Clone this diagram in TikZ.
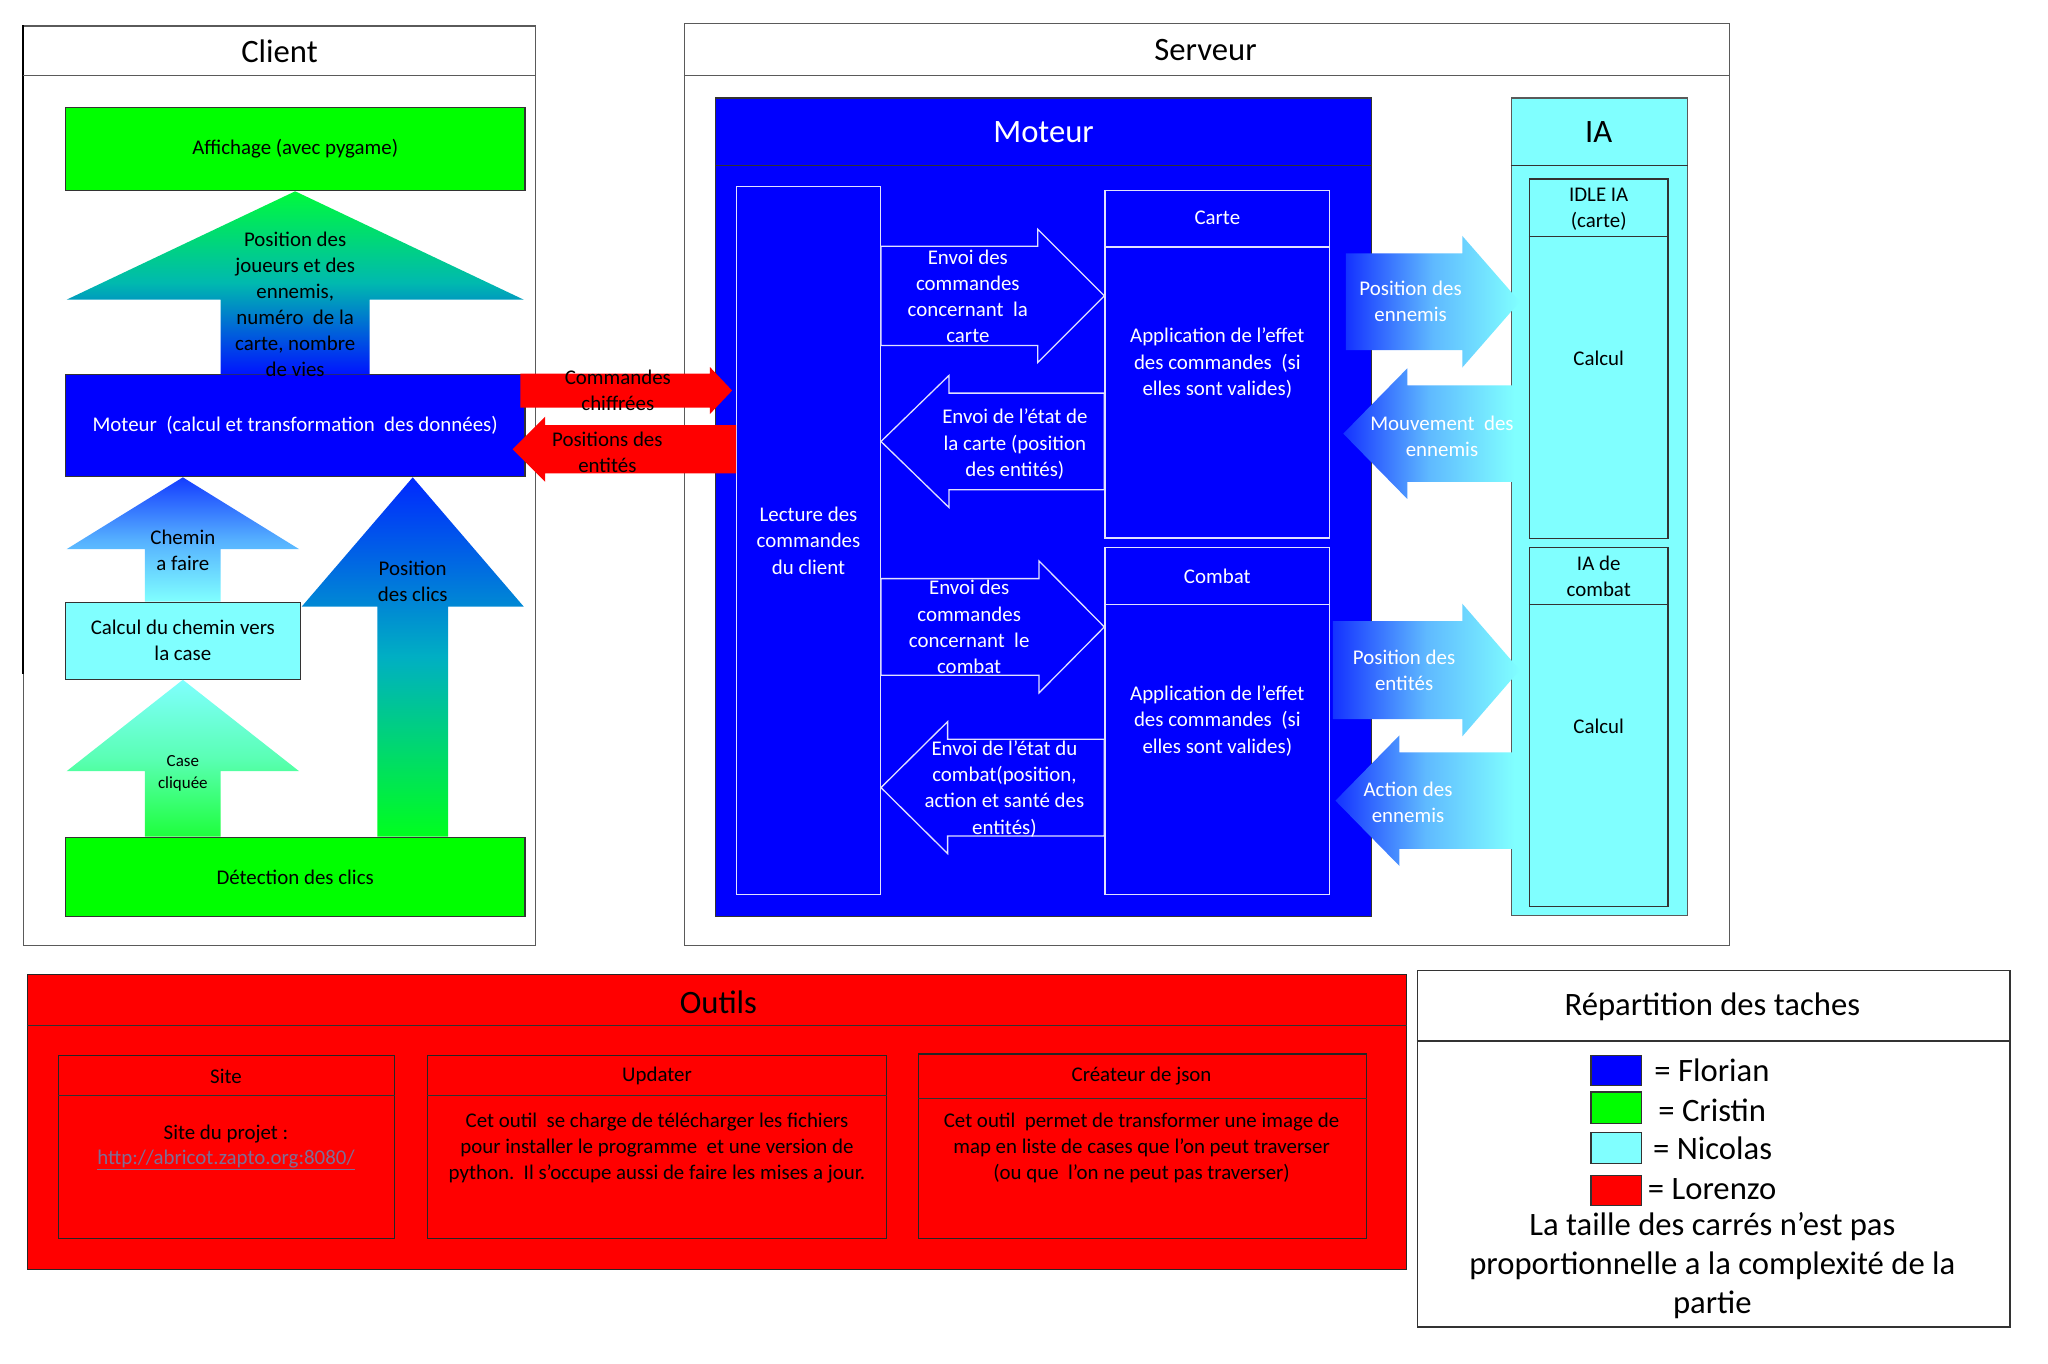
\documentclass[tikz,border=0pt]{standalone}
\usepackage{fontspec}
\setmainfont{Carlito}
\usetikzlibrary{fit,calc}
\definecolor{cblue}{RGB}{0,0,255}
\definecolor{cgreen}{RGB}{0,255,0}
\definecolor{ccyan}{RGB}{128,255,255}
\definecolor{cred}{RGB}{255,0,0}
\definecolor{wcol}{RGB}{225,225,255}
\definecolor{urlcol}{RGB}{125,110,150}
\definecolor{frcol}{RGB}{90,90,90}
% block arrows: style, tip, base, shaft half width, head half width, head length
\newcommand\BlkUp[6]{\path[#1] let \p1=#2, \p2=#3 in
  (\x2-#4,\y2) -- (\x2-#4,\y1-#6) -- (\x2-#5,\y1-#6) -- (\x2,\y1) -- (\x2+#5,\y1-#6) -- (\x2+#4,\y1-#6) -- (\x2+#4,\y2) -- cycle;}
\newcommand\BlkRight[6]{\path[#1] let \p1=#2, \p2=#3 in
  (\x2,\y1+#4) -- (\x1-#6,\y1+#4) -- (\x1-#6,\y1+#5) -- (\x1,\y1) -- (\x1-#6,\y1-#5) -- (\x1-#6,\y1-#4) -- (\x2,\y1-#4) -- cycle;}
\newcommand\BlkLeft[6]{\path[#1] let \p1=#2, \p2=#3 in
  (\x2,\y1+#4) -- (\x1+#6,\y1+#4) -- (\x1+#6,\y1+#5) -- (\x1,\y1) -- (\x1+#6,\y1-#5) -- (\x1+#6,\y1-#4) -- (\x2,\y1-#4) -- cycle;}
\begin{document}
\begin{tikzpicture}[x=1pt,y=-1pt,
  framebox/.style={draw=frcol, fill=white, line width=1pt, inner sep=0pt},
  greenbox/.style={draw=black!80, fill=cgreen, line width=0.9pt, inner sep=0pt},
  bluebox/.style={draw=black!80, fill=cblue, line width=0.9pt, inner sep=0pt},
  cyanbox/.style={draw=black!80, fill=ccyan, line width=0.9pt, inner sep=0pt},
  redbox/.style={draw=black!85, fill=cred, line width=0.9pt, inner sep=0pt},
  whitebox/.style={draw=wcol, fill=cblue, line width=1pt, inner sep=0pt},
  swatch/.style={draw=black!80, line width=1pt, inner sep=0pt},
  sepline/.style={draw=black!80, line width=0.9pt},
  wsep/.style={draw=wcol, line width=1pt},
  warrow/.style={fill=cblue, draw=wcol, line width=1pt},
  redarrow/.style={fill=cred},
  garrow/.style={left color={rgb,255:red,20;green,50;blue,255}, right color=ccyan, middle color={rgb,255:red,95;green,185;blue,255}},
  txs/.style={font=\fontsize{16}{20}\selectfont, align=center, inner sep=0pt},
  txl/.style={font=\fontsize{25}{30}\selectfont, align=center, inner sep=0pt},
  txc/.style={font=\fontsize{13}{17}\selectfont, align=center, inner sep=0pt},
  wt/.style={text=white}]
\fill[white] (0,0) rectangle (1568,1044);
\useasboundingbox (0,0) rectangle (1568,1044);

% ================= CLIENT =================
\node[framebox, fit={(18,20) (410,724)}] (client) {};
\draw[black, line width=1.6pt] (client.north west) -- (client.west |- 0,516);
\draw[sepline,draw=frcol] (client.west |- 0,58) -- (client.east |- 0,58);
\node[txl] (clientT) at (214,39) {Client};
\node[greenbox, fit={(50,82) (402,146)}] (affichage) {};
\node[txs] (affT) at (affichage.center) {Affichage (avec pygame)};
\node[bluebox, fit={(50,287) (402,365)}] (moteurC) {};
\node[txs, wt] (moteurCT) at (moteurC.center) {Moteur\ \ (calcul et transformation\ \ des données)};
\node[cyanbox, fit={(50,461) (230,520)}] (calculC) {};
\node[txs] (calculCT) at (calculC.center) {Calcul du chemin vers\\la case};
\node[greenbox, fit={(50,641) (402,702)}] (detection) {};
\node[txs] (detectionT) at (detection.center) {Détection des clics};
\coordinate (clicsx) at (316,0);

\BlkUp{top color={rgb,255:red,0;green,250;blue,60}, bottom color={rgb,255:red,0;green,20;blue,255}, middle color={rgb,255:red,0;green,185;blue,175}}{(affichage.south)}{(moteurC.north)}{57pt}{175pt}{83pt}
\node[txs] (bigT) at (226,233) {Position des\\joueurs et des\\ennemis,\\numéro\ \ de la\\carte, nombre\\de vies};

\BlkUp{top color={rgb,255:red,20;green,60;blue,255}, bottom color=ccyan, middle color={rgb,255:red,85;green,175;blue,255}}{(moteurC.south -| calculC.north)}{(calculC.north)}{29pt}{89pt}{55pt}
\node[txs] (chemT) at (140,421) {Chemin\\a faire};

\BlkUp{top color=ccyan, bottom color={rgb,255:red,30;green,255;blue,60}, middle color={rgb,255:red,90;green,255;blue,180}}{(calculC.south)}{(detection.north -| calculC.south)}{29pt}{89pt}{70pt}
\node[txc] (caseT) at (140,592) {Case\\cliquée};

\BlkUp{top color={rgb,255:red,0;green,40;blue,255}, bottom color={rgb,255:red,0;green,255;blue,30}, middle color={rgb,255:red,0;green,175;blue,195}}{(moteurC.south -| clicsx)}{(detection.north -| clicsx)}{27pt}{85pt}{99pt}
\node[txs] (clicsT) at (316,445) {Position\\des clics};

% ================= SERVEUR =================
\node[framebox, fit={(524,18) (1324,724)}] (serveur) {};
\draw[sepline,draw=frcol] (serveur.west |- 0,58) -- (serveur.east |- 0,58);
\node[txl] (serveurT) at (923,38) {Serveur};
\node[bluebox, fit={(548,75) (1050,702)}] (moteurS) {};
\draw[sepline] (moteurS.west |- 0,127) -- (moteurS.east |- 0,127);
\node[txl, wt] (moteurST) at (799,101) {Moteur};
\node[whitebox, fit={(564,143) (674,685)}] (lecture) {};
\node[txs, wt] (lectureT) at (619,414) {Lecture des\\commandes\\du client};
\node[whitebox, fit={(846,146) (1018,412)}] (carte) {};
\draw[wsep] (carte.west |- 0,189) -- (carte.east |- 0,189);
\node[txs, wt] (carteT) at (932,167) {Carte};
\node[txs, wt] (carteB) at (932,278) {Application de l’effet\\des commandes\ \ (si\\elles sont valides)};
\node[whitebox, fit={(846,419) (1018,685)}] (combat) {};
\draw[wsep] (combat.west |- 0,463) -- (combat.east |- 0,463);
\node[txs, wt] (combatT) at (932,441) {Combat};
\node[txs, wt] (combatB) at (932,552) {Application de l’effet\\des commandes\ \ (si\\elles sont valides)};

\coordinate (ya1) at (0,226.5);
\BlkRight{warrow}{(carte.west |- ya1)}{(lecture.east |- ya1)}{38pt}{51pt}{51pt}
\node[txs, wt] (a1T) at (741,227) {Envoi des\\commandes\\concernant\ \ la\\carte};
\coordinate (ya2) at (0,338);
\BlkLeft{warrow}{(lecture.east |- ya2)}{(carte.west |- ya2)}{37pt}{50.5pt}{52pt}
\node[txs, wt] (a2T) at (777,340) {Envoi de l’état de\\la carte (position\\des entités)};
\coordinate (ya3) at (0,480);
\BlkRight{warrow}{(combat.west |- ya3)}{(lecture.east |- ya3)}{37pt}{50.5pt}{50pt}
\node[txs, wt] (a3T) at (742,480) {Envoi des\\commandes\\concernant\ \ le\\combat};
\coordinate (ya4) at (0,603);
\BlkLeft{warrow}{(lecture.east |- ya4)}{(combat.west |- ya4)}{37pt}{50.5pt}{51pt}
\node[txs, wt] (a4T) at (769,604) {Envoi de l’état du\\combat(position,\\action et santé des\\entités)};

% IA
\node[cyanbox, draw=frcol, fit={(1157,75) (1292,701)}] (ia) {};
\draw[sepline] (ia.west |- 0,127) -- (ia.east |- 0,127);
\node[txl] (iaT) at (1224,101) {IA};
\node[cyanbox, fit={(1171,137) (1277,412)}] (idle) {};
\draw[sepline] (idle.west |- 0,181) -- (idle.east |- 0,181);
\node[txs] (idleT) at (1224,160) {IDLE IA\\(carte)};
\node[txs] (idleB) at (1224,274) {Calcul};
\node[cyanbox, fit={(1171,419) (1277,694)}] (iacomb) {};
\draw[sepline] (iacomb.west |- 0,463) -- (iacomb.east |- 0,463);
\node[txs] (iacombT) at (1224,441.5) {IA de\\combat};
\node[txs] (iacombB) at (1224,556) {Calcul};

\coordinate (yg1) at (0,231);
\BlkRight{garrow}{($(idle.west |- yg1)+(-7,0)$)}{($(moteurS.east |- yg1)+(-20,0)$)}{37pt}{50.4pt}{44pt}
\node[txs, wt] (g1T) at (1080,231) {Position des\\ennemis};
\coordinate (yg2) at (0,332);
\BlkLeft{garrow}{($(moteurS.east |- yg2)+(-22,0)$)}{($(ia.west |- yg2)+(3,0)$)}{37pt}{50pt}{49pt}
\node[txs, wt] (g2T) at (1104,334) {Mouvement\ \ des\\ennemis};
\coordinate (yg3) at (0,513);
\BlkRight{garrow}{($(iacomb.west |- yg3)+(-7,0)$)}{($(moteurS.east |- yg3)+(-30,0)$)}{37.5pt}{50.8pt}{44pt}
\node[txs, wt] (g3T) at (1075,513) {Position des\\entités};
\coordinate (yg4) at (0,613);
\BlkLeft{garrow}{($(moteurS.east |- yg4)+(-28,0)$)}{($(ia.west |- yg4)+(3,0)$)}{37pt}{50pt}{49pt}
\node[txs, wt] (g4T) at (1078,614) {Action des\\ennemis};

% ================= RED ARROWS =================
\coordinate (yr1) at (0,299);
\BlkRight{redarrow}{($(lecture.west |- yr1)+(-3,0)$)}{($(moteurC.east |- yr1)+(-4,0)$)}{13pt}{18pt}{17pt}
\node[txs] (cmdT) at (473,299) {Commandes\\chiffrées};
\coordinate (yr2) at (0,344);
\BlkLeft{redarrow}{($(moteurC.east |- yr2)+(-10,0)$)}{(lecture.west |- yr2)}{18.5pt}{25pt}{25pt}
\node[txs] (posT) at (465,346) {Positions des\\entités};

% ================= OUTILS =================
\node[redbox, fit={(21,746) (1077,972)}] (outils) {};
\draw[sepline] (outils.west |- 0,785) -- (outils.east |- 0,785);
\node[txl] (outilsT) at (550,767) {Outils};
\node[redbox, fit={(45,808) (302,948)}] (site) {};
\draw[sepline] (site.west |- 0,839) -- (site.east |- 0,839);
\node[txs] (siteT) at (173,824) {Site};
\node[txs] (siteB) at (173,868) {Site du projet :};
\node[txs, text=urlcol] (siteU) at (173,888) {\underline{http://abricot.zapto.org:8080/}};
\node[redbox, fit={(327,808) (679,948)}] (updater) {};
\draw[sepline] (updater.west |- 0,839) -- (updater.east |- 0,839);
\node[txs] (updaterT) at (503,824) {Updater};
\node[txs] (updaterB) at (503,879) {Cet outil\ \ se charge de télécharger les fichiers\\pour installer le programme\ \ et une version de\\python.\ \ Il s’occupe aussi de faire les mises a jour.};
\node[redbox, fit={(703,807) (1046,948)}] (createur) {};
\draw[sepline] (createur.west |- 0,841) -- (createur.east |- 0,841);
\node[txs] (createurT) at (874,824) {Créateur de json};
\node[txs] (createurB) at (874,879) {Cet outil\ \ permet de transformer une image de\\map en liste de cases que l’on peut traverser\\(ou que\ \ l’on ne peut pas traverser)};

% ================= LEGEND =================
\node[framebox, draw=black!80, fit={(1085,743) (1539,1016)}] (legend) {};
\draw[sepline] (legend.west |- 0,797) -- (legend.east |- 0,797);
\node[txl] (legendT) at (1311,771) {Répartition des taches};
\node[swatch, fill=cblue, fit={(1218,808) (1257,831)}] (swF) {};
\node[swatch, fill=cgreen, fit={(1218,836) (1257,860)}] (swC) {};
\node[swatch, fill=ccyan, fit={(1218,867) (1257,891)}] (swN) {};
\node[swatch, fill=cred, fit={(1218,900) (1257,923)}] (swL) {};
\node[txl, anchor=west] (labF) at ($(swF.east)+(9,0)$) {= Florian};
\node[txl, anchor=west] (labC) at ($(swC.east)+(12,2)$) {= Cristin};
\node[txl, anchor=west] (labN) at ($(swN.east)+(8,0)$) {= Nicolas};
\node[txl, anchor=west] (labL) at ($(swL.east)+(4,-1)$) {= Lorenzo};
\node[txl] (legendB) at (1311,969) {La taille des carrés n’est pas\\proportionnelle a la complexité de la\\partie};
\end{tikzpicture}
\end{document}
